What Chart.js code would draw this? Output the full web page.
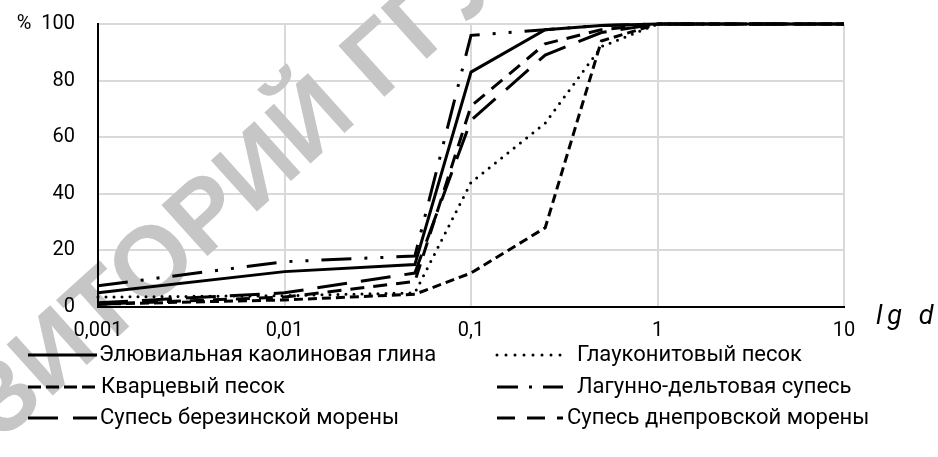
<!DOCTYPE html>
<html>
<head>
<meta charset="utf-8">
<script src="https://cdn.jsdelivr.net/npm/chart.js@4"></script>
<style>
  html, body { margin: 0; padding: 0; background: #fff; }
  #wrap { width: 938px; height: 457px; position: relative; }
</style>
</head>
<body>
<div id="wrap"><canvas id="grainChart" width="938" height="457"></canvas></div>
<script>
// particle size, mm
const sizes = [0.001, 0.01, 0.05, 0.1, 0.25, 0.5, 1, 10];

const seriesNames = [
    'Элювиальная каолиновая глина',
    'Глауконитовый песок',
    'Кварцевый песок',
    'Лагунно-дельтовая супесь',
    'Супесь березинской морены',
    'Супесь днепровской морены'
];

// cumulative %
const eluvialClay     = [5, 12.5, 15, 83, 98, 99.5, 100, 100];
const glauconiteSand  = [3.5, 4, 5, 44, 65, 92, 100, 100];
const quartzSand      = [1, 2.5, 4.5, 12, 28, 94, 100, 100];
const lagoonDeltaLoam = [7.5, 16, 18, 96, 98, 99.5, 100, 100];
const berezinaMoraine = [1.5, 5, 12, 66, 89, 97, 100, 100];
const dnieperMoraine  = [1, 3.5, 9, 71, 93, 98, 100, 100];

const xTicks = [0.001, 0.01, 0.1, 1, 10];
const xTickLabels = ['0,001', '0,01', '0,1', '1', '10'];
const yTicks = [0, 20, 40, 60, 80, 100];
const yTickLabels = ['0', '20', '40', '60', '80', '%  100'];

const FONT = 'Roboto, "Liberation Sans", sans-serif';

// line styles: chart dash / legend dash / cap / gap before legend text
const styles = [
    { dash: [], legend: [], cap: 'butt', gap: 2 },
    { dash: [0, 8], legend: [0, 9], cap: 'round', gap: 14 },
    { dash: [9, 5], legend: [13, 5], cap: 'butt', gap: 4 },
    { dash: [30, 13, 3, 13, 3, 13], legend: [21, 11, 3, 11], cap: 'butt', gap: 14 },
    { dash: [30, 14], legend: [30, 15], cap: 'butt', gap: 3 },
    { dash: [14, 9], legend: [18, 12], cap: 'butt', gap: 4 }
];

const allSeries = [eluvialClay, glauconiteSand, quartzSand, lagoonDeltaLoam, berezinaMoraine, dnieperMoraine];

function toPoints(vals) {
    return sizes.map((s, i) => ({ x: s, y: vals[i] }));
}

// faint diagonal stamp of the source document, under the lines and labels
const watermark = {
    id: 'watermark',
    beforeDatasetsDraw(chart) {
        const ctx = chart.ctx;
        ctx.save();
        ctx.translate(132, 287);
        ctx.rotate(-42 * Math.PI / 180);
        ctx.font = 'bold 100px "Liberation Sans", Arial, sans-serif';
        ctx.fillStyle = '#c6c6c6';
        ctx.textAlign = 'center';
        ctx.textBaseline = 'middle';
        ctx.fillText('РЕПОЗИТОРИЙ ГГУ', 0, 0);
        ctx.restore();
    }
};

const extras = {
    id: 'extras',
    afterDraw(chart) {
        const ctx = chart.ctx;
        ctx.save();
        // axis title
        ctx.font = 'italic 27px ' + FONT;
        ctx.fillStyle = '#000';
        ctx.textBaseline = 'middle';
        ctx.textAlign = 'left';
        ctx.letterSpacing = '5px';
        ctx.fillText('lg d', 876, 317);
        ctx.letterSpacing = '0px';

        // legend, two columns
        const cols = [{ x0: 28, x1: 97 }, { x0: 497, x1: 563 }];
        const rows = [355, 387, 418];
        ctx.font = '22px ' + FONT;
        chart.data.datasets.forEach((ds, i) => {
            const c = cols[i % 2];
            const y = rows[Math.floor(i / 2)];
            ctx.beginPath();
            ctx.setLineDash(styles[i].legend);
            ctx.lineCap = styles[i].cap;
            ctx.lineWidth = 3;
            ctx.strokeStyle = '#000';
            ctx.moveTo(c.x0, y);
            ctx.lineTo(c.x1, y);
            ctx.stroke();
            ctx.setLineDash([]);
            ctx.fillText(ds.label, c.x1 + styles[i].gap, y);
        });
        ctx.restore();
    }
};

const ctx = document.getElementById('grainChart').getContext('2d');
const grainChart = new Chart(ctx, {
    type: 'line',
    data: {
        datasets: allSeries.map((vals, i) => ({
            label: seriesNames[i],
            data: toPoints(vals),
            borderColor: '#000',
            borderWidth: 3,
            borderDash: styles[i].dash,
            borderCapStyle: styles[i].cap,
            pointRadius: 0,
            tension: 0,
            fill: false,
            clip: 6
        }))
    },
    options: {
        responsive: false,
        animation: false,
        layout: { padding: { top: 24, right: 94, left: 0, bottom: 0 } },
        plugins: { legend: { display: false }, tooltip: { enabled: false } },
        scales: {
            x: {
                type: 'logarithmic',
                min: 0.001,
                max: 10,
                afterBuildTicks: (scale) => { scale.ticks = xTicks.map(v => ({ value: v })); },
                afterFit: (scale) => {
                    scale.height = 150;
                    scale.paddingLeft = 0;
                    scale.paddingRight = 0;
                },
                grid: { color: '#d9d9d9', lineWidth: 2, drawTicks: false },
                border: { color: '#000', width: 2, z: 1 },
                ticks: {
                    z: 1,
                    padding: 12,
                    color: '#000',
                    font: { family: FONT, size: 20 },
                    maxRotation: 0,
                    autoSkip: false,
                    callback: (v) => xTickLabels[xTicks.indexOf(v)]
                }
            },
            y: {
                min: 0,
                max: 100,
                afterBuildTicks: (scale) => { scale.ticks = yTicks.map(v => ({ value: v })); },
                afterFit: (scale) => {
                    scale.width = 98;
                    scale.paddingTop = 0;
                    scale.paddingBottom = 0;
                },
                grid: { color: '#d9d9d9', lineWidth: 2, drawTicks: false },
                border: { color: '#000', width: 2, z: 1 },
                ticks: {
                    z: 1,
                    padding: 23,
                    color: '#000',
                    font: { family: FONT, size: 20 },
                    callback: (v) => yTickLabels[yTicks.indexOf(v)]
                }
            }
        }
    },
    plugins: [watermark, extras]
});
</script>
</body>
</html>
